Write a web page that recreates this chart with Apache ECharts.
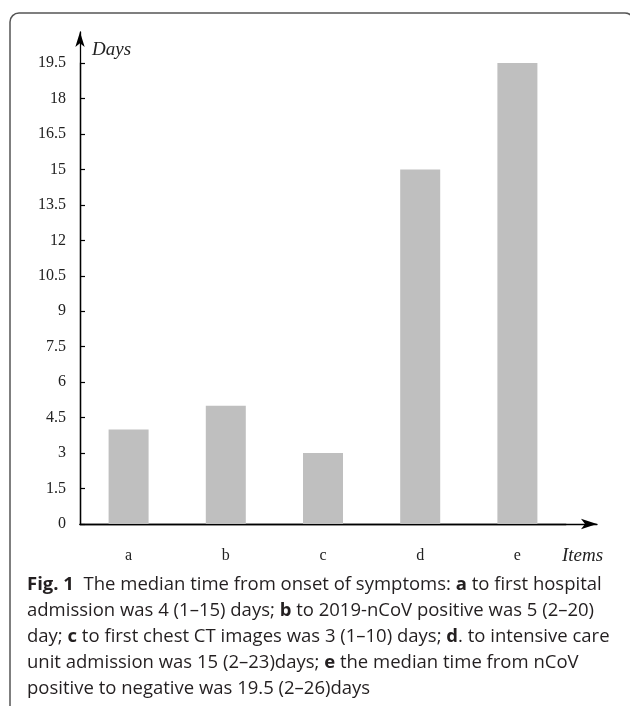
<!DOCTYPE html>
<html><head><meta charset="utf-8">
<script src="https://cdn.jsdelivr.net/npm/echarts@6/dist/echarts.min.js"></script>
<style>html,body{margin:0;padding:0;background:#fff}#c{width:630px;height:706px}</style>
</head><body><div id="c"></div>
<script>
const categories = ['a', 'b', 'c', 'd', 'e'];
const medianDays = [4, 5, 3, 15, 19.5];
const yTicks = [0, 1.5, 3, 4.5, 6, 7.5, 9, 10.5, 12, 13.5, 15, 16.5, 18, 19.5];
const yAxisName = 'Days';
const xAxisName = 'Items';
const captionLines = [
  '{b|Fig. 1}  The median time from onset of symptoms: {b|a} to first hospital',
  'admission was 4 (1\u201315) days; {b|b} to 2019-nCoV positive was 5 (2\u201320)',
  'day; {b|c} to first chest CT images was 3 (1\u201310) days; {b|d}. to intensive care',
  'unit admission was 15 (2\u201323)days; {b|e} the median time from nCoV',
  'positive to negative was 19.5 (2\u201326)days'
];

const chart = echarts.init(document.getElementById('c'), null, {renderer: 'canvas'});
const serif = '"Liberation Serif", "Times New Roman", serif';
const capFont = '"Open Sans", "Noto Sans", sans-serif';
const capSize = 18.5;

chart.setOption({
  backgroundColor: '#fff',
  animation: false,
  grid: [
    {left: 80, right: 64, top: 63, bottom: 182},
    {left: 80, right: 33, top: 32, bottom: 182}
  ],
  xAxis: [
    {
      type: 'category', gridIndex: 0, data: categories,
      axisLine: {show: true, lineStyle: {color: '#000', width: 1.3}},
      axisTick: {show: false},
      axisLabel: {margin: 24, fontFamily: serif, fontSize: 16, color: '#222'},
      splitLine: {show: false}
    },
    {
      type: 'value', gridIndex: 1, min: 0, max: 1,
      axisLine: {show: true, symbol: ['none', 'arrow'], symbolSize: [8, 16], lineStyle: {color: '#000', width: 1.3}},
      axisTick: {show: false}, axisLabel: {show: false}, splitLine: {show: false},
      name: xAxisName, nameLocation: 'end', nameGap: -35,
      nameTextStyle: {fontFamily: serif, fontStyle: 'italic', fontSize: 19, color: '#222', verticalAlign: 'top', align: 'left', padding: [22, 0, 0, 0]}
    }
  ],
  yAxis: [
    {
      type: 'value', gridIndex: 0, min: yTicks[0], max: yTicks[yTicks.length - 1], interval: yTicks[1] - yTicks[0],
      axisLine: {show: true, lineStyle: {color: '#000', width: 1.3}},
      axisTick: {show: true, inside: true, length: 5, lineStyle: {color: '#000', width: 1.2}},
      axisLabel: {margin: 14, fontFamily: serif, fontSize: 16, color: '#222',
        formatter: v => String(v)},
      splitLine: {show: false}
    },
    {
      type: 'value', gridIndex: 1, min: 0, max: 1,
      axisLine: {show: true, symbol: ['none', 'arrow'], symbolSize: [7, 15], lineStyle: {color: '#000', width: 1.3}},
      axisTick: {show: false}, axisLabel: {show: false}, splitLine: {show: false},
      name: yAxisName, nameLocation: 'end', nameGap: -18,
      nameTextStyle: {fontFamily: serif, fontStyle: 'italic', fontSize: 19, color: '#222', align: 'left', verticalAlign: 'middle', padding: [0, 0, 0, 12]}
    }
  ],
  series: [{
    type: 'bar', xAxisIndex: 0, yAxisIndex: 0,
    data: medianDays, barWidth: 40,
    itemStyle: {color: '#bfbfbf'}
  }],
  graphic: [
    {
      type: 'rect', z: 100, silent: true,
      shape: {x: 10, y: 13, width: 624, height: 760, r: 9},
      style: {fill: 'none', stroke: '#555', lineWidth: 1.5}
    },
    {
      type: 'text', left: 27, top: 572, z: 100,
      style: {
        text: captionLines.join('\n'),
        font: capSize + 'px ' + capFont,
        fill: '#231f20',
        lineHeight: 26,
        rich: {
          b: {fontWeight: 'bold', fontFamily: capFont, fontSize: capSize, lineHeight: 26, fill: '#231f20'}
        }
      }
    }
  ]
});
</script></body></html>
